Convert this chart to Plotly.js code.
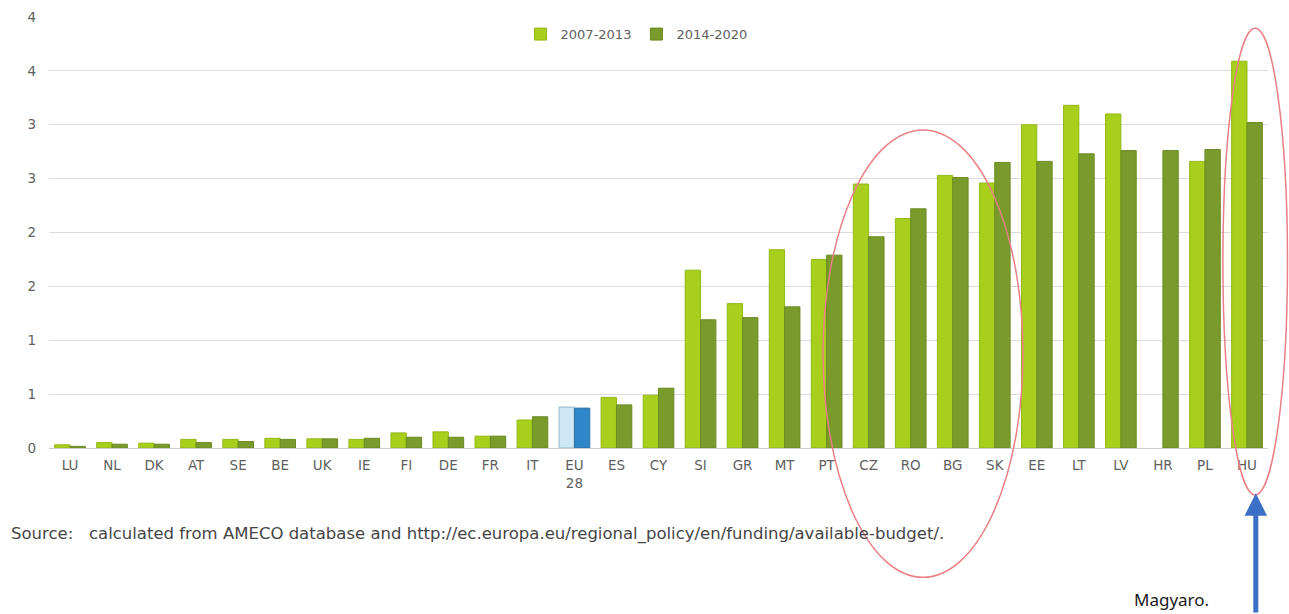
<!DOCTYPE html>
<html>
<head>
<meta charset="utf-8">
<script src="https://cdn.plot.ly/plotly-3.0.1.min.js"></script>
<style>html,body{margin:0;padding:0;background:#fff;}#chart{width:1289px;height:614px;}</style>
</head>
<body>
<div id="chart"></div>
<script>
const categories = ["LU","NL","DK","AT","SE","BE","UK","IE","FI","DE","FR","IT","EU<br>28","ES","CY","SI","GR","MT","PT","CZ","RO","BG","SK","EE","LT","LV","HR","PL","HU"];
const series1Name = "2007-2013";
const series2Name = "2014-2020";
const values2007 = [0.03,0.05,0.045,0.08,0.08,0.09,0.085,0.08,0.14,0.15,0.11,0.26,0.38,0.47,0.49,1.65,1.34,1.84,1.75,2.45,2.13,2.53,2.46,3.0,3.18,3.10,null,2.66,3.59];
const values2014 = [0.015,0.035,0.035,0.05,0.06,0.08,0.085,0.09,0.10,0.10,0.11,0.29,0.37,0.40,0.555,1.19,1.21,1.31,1.79,1.96,2.22,2.51,2.65,2.66,2.73,2.76,2.76,2.77,3.02];
const yTickVals = [0,0.5,1,1.5,2,2.5,3,3.5,4];
const yTickText = ["0","1","1","2","2","3","3","4","4"];
const sourceText = "Source:   calculated from AMECO database and http://ec.europa.eu/regional_policy/en/funding/available-budget/.";
const noteText = "Magyaro.";

const light = "#a8cf1c", lightLine = "#93b818";
const dark = "#7a9b2b", darkLine = "#6a8a22";
const euLight = "#cde8f4", euDark = "#2f86c9";
const c1 = categories.map(c => c === "EU<br>28" ? euLight : light);
const c2 = categories.map(c => c === "EU<br>28" ? euDark : dark);
const l1 = categories.map(c => c === "EU<br>28" ? "#8fb8cc" : lightLine);
const l2 = categories.map(c => c === "EU<br>28" ? "#2a6fa5" : darkLine);

const traces = [
  {type:"bar", name:series1Name, x:categories, y:values2007, marker:{color:c1, line:{color:l1, width:1}}},
  {type:"bar", name:series2Name, x:categories, y:values2014, marker:{color:c2, line:{color:l2, width:1}}}
];

const tickFont = {family:"DejaVu Sans, sans-serif", size:13.5, color:"#606060"};

const layout = {
  width:1289, height:614,
  margin:{l:49, r:21, t:17, b:166},
  paper_bgcolor:"#fff", plot_bgcolor:"#fff",
  font:{family:"DejaVu Sans, sans-serif", size:13, color:"#606060"},
  barmode:"group", bargap:0.27, bargroupgap:0,
  showlegend:true,
  legend:{orientation:"h", x:0.482, xanchor:"center", y:0.995, yanchor:"top", font:{family:"DejaVu Sans, sans-serif", size:13, color:"#606060"}, itemwidth:30, traceorder:"normal", bgcolor:"rgba(0,0,0,0)"},
  xaxis:{type:"category", tickfont:tickFont, showgrid:false, showline:true, linecolor:"#d0d0d0", ticks:"", ticklabelstandoff:5, fixedrange:true},
  yaxis:{range:[0,4], tickvals:yTickVals, ticktext:yTickText, showgrid:true, gridcolor:"#dcdcdc", gridwidth:1, zeroline:false, ticks:"", tickfont:tickFont, ticklabelstandoff:12, fixedrange:true},
  shapes:[
    {type:"circle", xref:"paper", yref:"paper", x0:0.635, x1:0.799, y0:-0.30, y1:0.738, line:{color:"#ea7f86", width:1.5}},
    {type:"circle", xref:"paper", yref:"paper", x0:0.963, x1:1.016, y0:-0.109, y1:0.974, line:{color:"#ea7f86", width:1.5}}
  ],
  annotations:[
    {xref:"paper", yref:"paper", x:-0.033, y:-0.2, xanchor:"left", yanchor:"middle", showarrow:false, text:sourceText, font:{family:"DejaVu Sans, sans-serif", size:16.5, color:"#454545"}},
    {xref:"paper", yref:"paper", x:0.921, y:-0.352, xanchor:"center", yanchor:"middle", showarrow:false, text:noteText, font:{family:"Noto Sans, sans-serif", size:17, color:"#1a1a1a"}},
    {xref:"paper", yref:"paper", x:0.990, y:-0.105, ax:0, ay:122, showarrow:true, arrowhead:2, arrowsize:0.9, arrowwidth:5, arrowcolor:"#3c6fc6", text:""}
  ]
};

Plotly.newPlot("chart", traces, layout, {displayModeBar:false, staticPlot:true});
</script>
</body>
</html>
